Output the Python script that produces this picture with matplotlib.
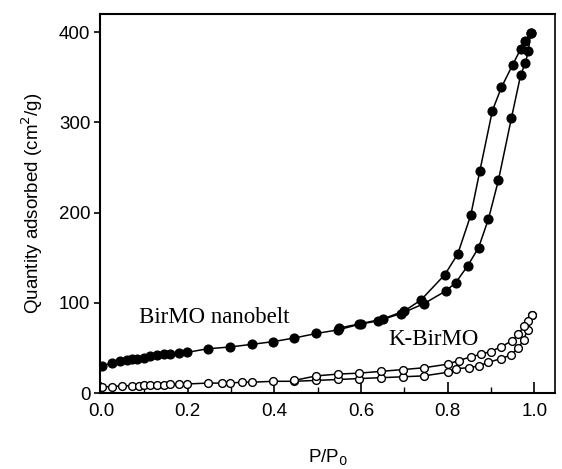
import matplotlib
matplotlib.use("Agg")

import matplotlib.pyplot as plt
from matplotlib.ticker import MultipleLocator

# BirMO nanobelt (filled circles)
birmo_ads_x = [0.002, 0.025, 0.044, 0.060, 0.071, 0.083, 0.099, 0.113, 0.129, 0.145,
               0.159, 0.179, 0.198, 0.246, 0.297, 0.349, 0.398, 0.446, 0.497, 0.547,
               0.595, 0.639, 0.692, 0.745, 0.795, 0.818, 0.846, 0.871, 0.894, 0.917,
               0.947, 0.968, 0.979, 0.986, 0.991]
birmo_ads_y = [30, 33, 36, 37, 38, 38, 39, 41, 42, 43,
               43, 44, 45, 49, 51, 54, 57, 61, 66, 70,
               76, 80, 88, 99, 113, 122, 141, 161, 193, 236,
               305, 352, 366, 379, 399]
birmo_des_x = [0.991, 0.979, 0.968, 0.950, 0.924, 0.903, 0.874, 0.853, 0.823, 0.793,
               0.738, 0.700, 0.650, 0.600, 0.550]
birmo_des_y = [399, 390, 381, 364, 339, 313, 246, 197, 154, 131,
               103, 91, 82, 77, 72]

# K-BirMO (open circles)
kbirmo_ads_x = [0.002, 0.025, 0.048, 0.071, 0.087, 0.099, 0.113, 0.129, 0.145, 0.159,
                0.179, 0.198, 0.246, 0.280, 0.297, 0.325, 0.349, 0.398, 0.446, 0.497,
                0.547, 0.595, 0.646, 0.697, 0.745, 0.800, 0.818, 0.848, 0.871, 0.894,
                0.922, 0.945, 0.963, 0.975, 0.984, 0.995]
kbirmo_ads_y = [7, 7, 8, 8, 8, 9, 9, 9, 9, 10,
                10, 10, 11, 11, 11, 12, 12, 13, 13, 14,
                15, 16, 17, 18, 19, 23, 27, 28, 30, 34,
                38, 42, 50, 59, 70, 86]
kbirmo_des_x = [0.995, 0.984, 0.975, 0.963, 0.949, 0.922, 0.899, 0.876, 0.853, 0.825,
                0.800, 0.745, 0.697, 0.646, 0.595, 0.547, 0.497, 0.446]
kbirmo_des_y = [86, 80, 74, 65, 58, 51, 46, 43, 40, 36,
                32, 28, 26, 24, 22, 21, 19, 14]

x_ticks = [0.0, 0.2, 0.4, 0.6, 0.8, 1.0]
y_ticks = [0, 100, 200, 300, 400]

plt.rcParams["font.family"] = ["Liberation Sans", "DejaVu Sans"]

fig = plt.figure(figsize=(5.62, 4.69), dpi=100)
ax = fig.add_axes([0.178, 0.162, 0.810, 0.808])

filled = dict(color="black", linewidth=1.1, marker="o", markersize=6.3,
              markerfacecolor="black", markeredgecolor="black")
hollow = dict(color="black", linewidth=1.1, marker="o", markersize=5.6,
              markerfacecolor="white", markeredgecolor="black", markeredgewidth=1.0)

ax.plot(birmo_ads_x, birmo_ads_y, **filled)
ax.plot(birmo_des_x, birmo_des_y, **filled)
ax.plot(kbirmo_ads_x, kbirmo_ads_y, **hollow)
ax.plot(kbirmo_des_x, kbirmo_des_y, **hollow)

ax.text(0.088, 84, "BirMO nanobelt", family="Liberation Serif", fontsize=16.5,
        va="center", ha="left")
ax.text(0.663, 59, "K-BirMO", family="Liberation Serif", fontsize=16.5,
        va="center", ha="left")

ax.set_xlim(-0.002, 1.048)
ax.set_ylim(0, 420)
ax.set_xticks(x_ticks)
ax.set_xticklabels([f"{v:.1f}" for v in x_ticks])
ax.set_yticks(y_ticks)
ax.xaxis.set_minor_locator(MultipleLocator(0.1))

ax.tick_params(axis="x", which="major", direction="in", length=8, width=1.2,
               labelsize=13.5, pad=7)
ax.tick_params(axis="x", which="minor", direction="in", length=4, width=1.0)
ax.tick_params(axis="y", which="major", direction="out", length=4, width=1.2,
               labelsize=13.5, pad=3)

for side in ["left", "bottom", "top"]:
    ax.spines[side].set_linewidth(1.5)
ax.spines["right"].set_linewidth(1.2)

ax.set_xlabel("P/P$_0$", fontsize=13.5, labelpad=20)
ax.set_ylabel("Quantity adsorbed (cm$^2$/g)", fontsize=13.5, labelpad=10)

fig.savefig("out.png", dpi=100)
